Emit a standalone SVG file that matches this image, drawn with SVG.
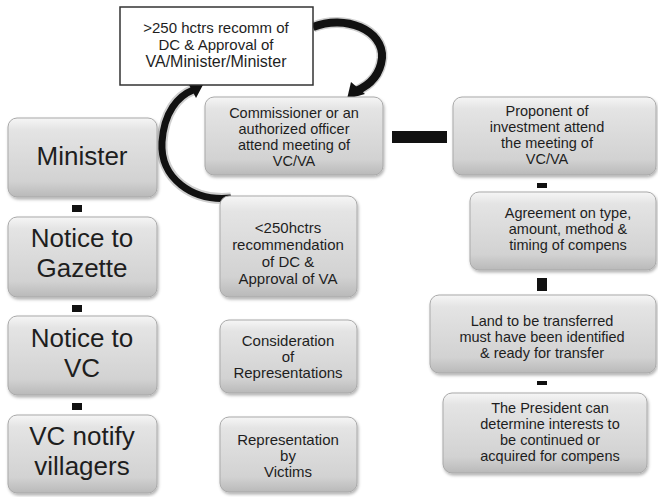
<svg xmlns="http://www.w3.org/2000/svg" width="658" height="497" viewBox="0 0 658 497">
  <style>
    .box { fill: url(#bevel); stroke: #a9a9a9; stroke-width: 1; filter: url(#shadow); }
    .plain { fill: #ffffff; stroke: #333333; stroke-width: 1.5; }
    .t { font-family: "Liberation Sans", Arial, sans-serif; fill: #1e1e1e; text-anchor: middle; }
    .big { font-size: 26px; }
    .sm { font-size: 15px; }
    .xs { font-size: 14.5px; }
    .link { fill: #111111; }
    .arc { fill: none; stroke: #111111; stroke-linecap: butt; }
    .halo { fill: none; stroke: #cfcfcf; stroke-linecap: butt; }
  </style>
  <defs>
    <linearGradient id="bevel" x1="0" y1="0" x2="0" y2="1">
      <stop offset="0" stop-color="#f6f6f6"/>
      <stop offset="0.15" stop-color="#e4e4e4"/>
      <stop offset="0.8" stop-color="#d2d2d2"/>
      <stop offset="1" stop-color="#b9b9b9"/>
    </linearGradient>
    <filter id="shadow" x="-10%" y="-10%" width="125%" height="130%">
      <feDropShadow dx="1" dy="2" stdDeviation="1.5" flood-color="#000000" flood-opacity="0.3"/>
    </filter>
  </defs>
  <rect width="658" height="497" fill="#ffffff"/>

  <!-- connectors -->
  <g id="connectors">
    <!-- left column links -->
    <rect class="link" x="72" y="205" width="10" height="7"/>
    <rect class="link" x="72" y="305" width="10" height="7"/>
    <rect class="link" x="72" y="403" width="10" height="7"/>
    <!-- commissioner to proponent -->
    <rect class="link" x="392" y="131" width="55" height="12"/>
    <!-- right column links -->
    <rect class="link" x="537" y="183" width="10" height="5"/>
    <rect class="link" x="537" y="278" width="10" height="13"/>
    <rect class="link" x="537" y="381" width="10" height="4"/>
    <!-- curved arrow: top box to commissioner -->
    <path class="halo" stroke-width="11" d="M313,27 C345,14 384,30 382,58 C380,76 368,86 356,91"/>
    <path class="arc" stroke-width="8" d="M313,27 C345,14 384,30 382,58 C380,76 368,86 356,91"/>
    <polygon class="link" points="347,99 351,82 365,94"/>
    <!-- curved arrow: small area box up to top box -->
    <path class="halo" stroke-width="11" d="M231,198 C192,202 160,178 162,142 C164,112 178,96 193,90"/>
    <path class="arc" stroke-width="7" d="M231,198 C192,202 160,178 162,142 C164,112 178,96 193,90"/>
    <polygon class="link" points="204,83 187,81 196,98"/>
  </g>

  <!-- top decision box -->
  <g id="node-large-area">
    <rect class="plain" x="120" y="7" width="193" height="78"/>
    <text class="t sm" x="216" y="33">&gt;250 hctrs recomm of</text>
    <text class="t sm" x="216" y="50">DC &amp; Approval of</text>
    <text class="t sm" x="216" y="67" style="font-size:16px">VA/Minister/Minister</text>
  </g>

  <!-- left column -->
  <g id="node-minister">
    <rect class="box" x="8" y="118" width="149" height="79" rx="9"/>
    <text class="t big" x="82" y="165">Minister</text>
  </g>
  <g id="node-gazette">
    <rect class="box" x="8" y="217" width="149" height="80" rx="9"/>
    <text class="t big" x="82" y="247">Notice to</text>
    <text class="t big" x="82" y="277">Gazette</text>
  </g>
  <g id="node-notice-vc">
    <rect class="box" x="8" y="316" width="149" height="79" rx="9"/>
    <text class="t big" x="82" y="347">Notice to</text>
    <text class="t big" x="82" y="377">VC</text>
  </g>
  <g id="node-vc-notify">
    <rect class="box" x="8" y="415" width="149" height="78" rx="9"/>
    <text class="t big" x="82" y="445">VC notify</text>
    <text class="t big" x="82" y="475">villagers</text>
  </g>

  <!-- middle column -->
  <g id="node-commissioner">
    <rect class="box" x="205" y="97" width="178" height="78" rx="9"/>
    <text class="t xs" x="294" y="118">Commissioner or an</text>
    <text class="t xs" x="294" y="134">authorized officer</text>
    <text class="t xs" x="294" y="150">attend meeting of</text>
    <text class="t xs" x="294" y="166">VC/VA</text>
  </g>
  <g id="node-small-area">
    <rect class="box" x="220" y="196" width="137" height="101" rx="9"/>
    <text class="t sm" x="288" y="233">&lt;250hctrs</text>
    <text class="t sm" x="288" y="250">recommendation</text>
    <text class="t sm" x="288" y="267">of DC &amp;</text>
    <text class="t sm" x="288" y="284">Approval of VA</text>
  </g>
  <g id="node-consideration">
    <rect class="box" x="220" y="320" width="137" height="73" rx="9"/>
    <text class="t sm" x="288" y="346">Consideration</text>
    <text class="t sm" x="288" y="362">of</text>
    <text class="t sm" x="288" y="378">Representations</text>
  </g>
  <g id="node-representation">
    <rect class="box" x="220" y="417" width="137" height="75" rx="9"/>
    <text class="t sm" x="288" y="445">Representation</text>
    <text class="t sm" x="288" y="461">by</text>
    <text class="t sm" x="288" y="477">Victims</text>
  </g>

  <!-- right column -->
  <g id="node-proponent">
    <rect class="box" x="453" y="97" width="203" height="78" rx="9"/>
    <text class="t xs" x="547" y="116">Proponent of</text>
    <text class="t xs" x="547" y="132">investment  attend</text>
    <text class="t xs" x="547" y="148">the meeting of</text>
    <text class="t xs" x="547" y="164">VC/VA</text>
  </g>
  <g id="node-agreement">
    <rect class="box" x="470" y="192" width="186" height="78" rx="9"/>
    <text class="t xs" x="568" y="218">Agreement on type,</text>
    <text class="t xs" x="568" y="234">amount, method &amp;</text>
    <text class="t xs" x="568" y="250">timing of compens</text>
  </g>
  <g id="node-land">
    <rect class="box" x="430" y="295" width="226" height="78" rx="9"/>
    <text class="t xs" x="542" y="326">Land to be transferred</text>
    <text class="t xs" x="542" y="342">must have been identified</text>
    <text class="t xs" x="542" y="358">&amp; ready for transfer</text>
  </g>
  <g id="node-president">
    <rect class="box" x="443" y="393" width="204" height="80" rx="9"/>
    <text class="t xs" x="550" y="413">The President  can</text>
    <text class="t xs" x="550" y="429">determine interests to</text>
    <text class="t xs" x="550" y="445">be continued  or</text>
    <text class="t xs" x="550" y="461">acquired for compens</text>
  </g>
</svg>
